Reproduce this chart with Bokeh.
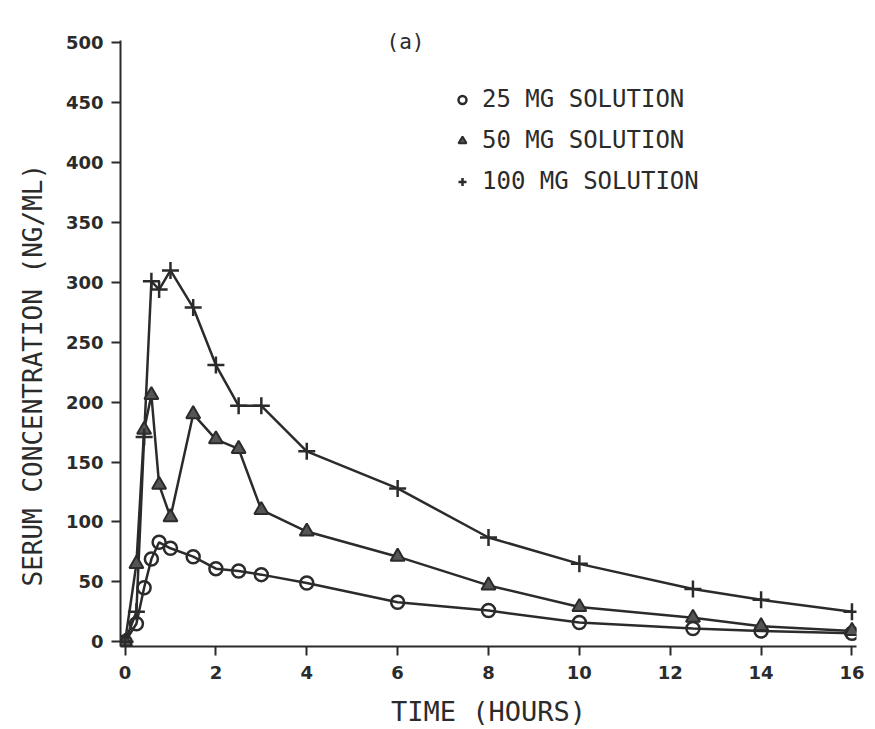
from bokeh.plotting import figure
from bokeh.models import Range1d, FixedTicker, Legend, LegendItem, Title
from bokeh.embed import file_html
from bokeh.resources import INLINE

# Sampling times (hours)
hours = [0, 0.25, 0.42, 0.58, 0.75, 1.0, 1.5, 2.0, 2.5, 3.0, 4.0, 6.0, 8.0, 10.0, 12.5, 14.0, 16.0]

# Serum concentration (ng/mL) per dose
conc_25 = [0, 15, 45, 69, 83, 78, 71, 61, 59, 56, 49, 33, 26, 16, 11, 9, 7]
conc_50 = [0, 65, 177, 206, 131, 104, 190, 169, 161, 110, 92, 71, 47, 29, 20, 13, 9]
conc_100 = [0, 25, 171, 301, 294, 310, 279, 231, 197, 197, 159, 128, 87, 65, 44, 35, 25]

x_ticks = [0, 2, 4, 6, 8, 10, 12, 14, 16]
y_ticks = [0, 50, 100, 150, 200, 250, 300, 350, 400, 450, 500]
series_labels = ["25 MG SOLUTION", "50 MG SOLUTION", "100 MG SOLUTION"]

INK = "#2b2b2b"
TICK_FONT = "DejaVu Sans"
LABEL_FONT = "DejaVu Sans Mono"

p = figure(width=875, height=729, output_backend="svg", toolbar_location=None,
           x_range=Range1d(-0.1, 16.1), y_range=Range1d(-4, 502),
           min_border_left=120, min_border_right=19, min_border_top=40, min_border_bottom=83)
p.outline_line_color = None
p.xgrid.visible = False
p.ygrid.visible = False
p.background_fill_color = "white"
p.border_fill_color = "white"

for ax in (p.xaxis, p.yaxis):
    ax.axis_line_width = 2
    ax.axis_line_color = INK
    ax.major_tick_line_width = 2
    ax.major_tick_line_color = INK
    ax.major_tick_out = 9
    ax.major_tick_in = 0
    ax.minor_tick_out = 0
    ax.minor_tick_in = 0
    ax.major_label_text_font = TICK_FONT
    ax.major_label_text_font_size = "18px"
    ax.major_label_text_font_style = "bold"
    ax.major_label_text_color = INK
    ax.axis_label_text_font = LABEL_FONT
    ax.axis_label_text_font_size = "27px"
    ax.axis_label_text_font_style = "normal"
    ax.axis_label_text_color = INK

p.xaxis.ticker = FixedTicker(ticks=x_ticks)
p.yaxis.ticker = FixedTicker(ticks=y_ticks)
p.xaxis.axis_label = "TIME (HOURS)"
p.xaxis.axis_label_text_line_height = 0.75
p.xaxis.major_label_standoff = 10
p.yaxis.major_label_standoff = 8
p.xaxis.axis_label_standoff = 14

# Vertical axis title, shifted up along the axis
p.add_layout(Title(text="SERUM CONCENTRATION (NG/ML)", align="left", offset=60,
                   text_font=LABEL_FONT, text_font_size="26px", text_font_style="normal",
                   text_color=INK, standoff=30), "left")

# Panel tag
p.title.text = "(a)"
p.title.align = "left"
p.title.offset = 266
p.title.standoff = -27
p.title.text_font = LABEL_FONT
p.title.text_font_size = "21px"
p.title.text_font_style = "normal"
p.title.text_color = INK

# Curves
p.line(hours, conc_25, line_color=INK, line_width=2.5)
p.line(hours, conc_50, line_color=INK, line_width=2.5)
p.line(hours, conc_100, line_color=INK, line_width=2.5)

r25 = p.scatter(hours, conc_25, marker="circle", size=13, line_color=INK,
                line_width=2.5, fill_color="white", fill_alpha=0.0)
r50 = p.scatter(hours, conc_50, marker="triangle", size=14, line_color=INK,
                line_width=2, fill_color="#555555")
r100 = p.scatter(hours, conc_100, marker="cross", size=17, line_color=INK,
                 line_width=2.5)

legend = Legend(items=[LegendItem(label=series_labels[0], renderers=[r25]),
                       LegendItem(label=series_labels[1], renderers=[r50]),
                       LegendItem(label=series_labels[2], renderers=[r100])],
                location=(332, 451), orientation="vertical",
                background_fill_alpha=0, border_line_alpha=0,
                label_text_font=LABEL_FONT, label_text_font_size="24px",
                label_text_font_style="normal", label_text_color=INK,
                glyph_width=20, glyph_height=27, label_height=27,
                spacing=13, label_standoff=10, padding=0, margin=0)
p.add_layout(legend, "center")

open("out.html", "w").write(file_html(p, INLINE))
